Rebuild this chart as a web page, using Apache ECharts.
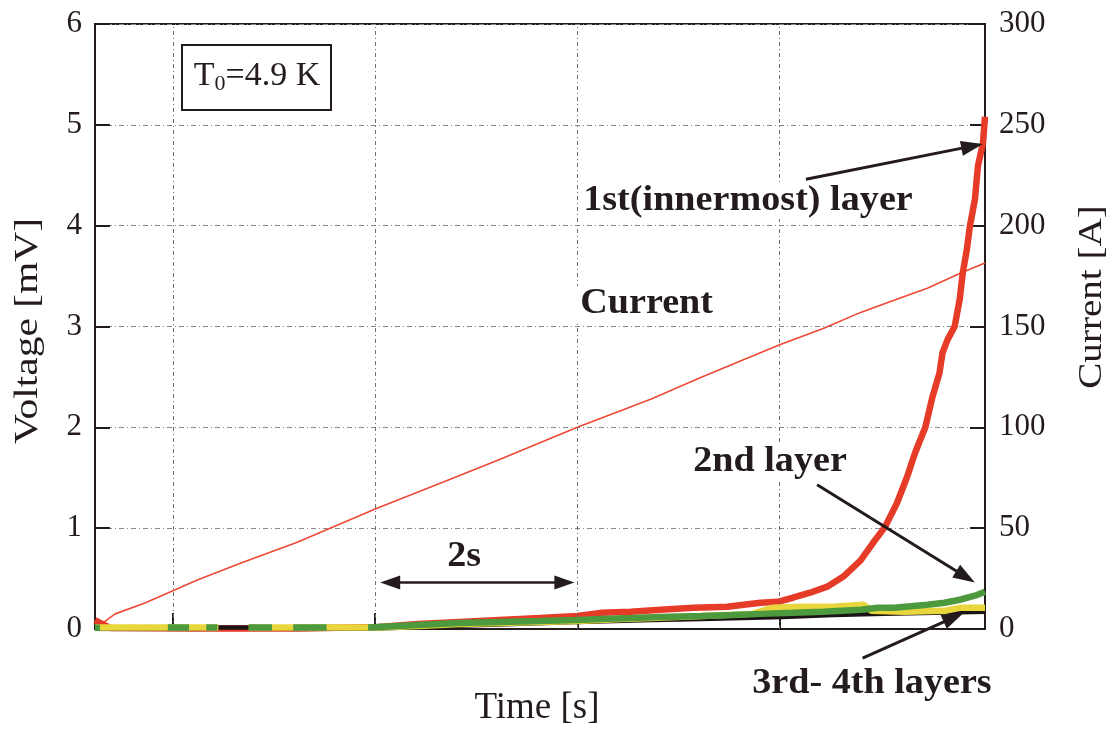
<!DOCTYPE html>
<html>
<head>
<meta charset="utf-8">
<script src="https://cdn.jsdelivr.net/npm/echarts@6/dist/echarts.min.js"></script>
<style>
  html, body { margin: 0; padding: 0; background: #fff; }
  #chart { width: 1120px; height: 734px; }
</style>
</head>
<body>
<div id="chart"></div>
<script>
// Quench test: layer voltages (left axis, mV) and transport current (right axis, A)

// Transport current ramp
const currentT = [0, 0.05, 0.2, 0.5, 0.77, 1.0, 1.43, 2.0, 2.77, 3.5, 4.0, 4.77, 5.5, 6.0, 6.77, 7.2, 7.57, 7.9, 8.23, 8.56, 8.8];
const currentA = [3, 2, 7.5, 13, 19, 24, 32.5, 43, 59.5, 74, 84, 100, 114, 125, 141, 149, 157, 163, 169, 176.5, 181.5];

// 1st (innermost) layer voltage
const layer1T = [0, 0.05, 0.15, 1.0, 2.0, 2.8, 3.2, 3.6, 4.0, 4.4, 4.77, 5.0, 5.3, 5.59, 5.92, 6.25, 6.58, 6.75, 6.9, 7.07, 7.24, 7.4, 7.57, 7.69, 7.81, 7.93, 8.03, 8.11, 8.21, 8.28, 8.35, 8.38, 8.43, 8.5, 8.55, 8.58, 8.62, 8.65, 8.7, 8.73, 8.78, 8.8];
const layer1V = [0.09, 0.06, 0.01, 0.005, 0.005, 0.02, 0.05, 0.07, 0.09, 0.11, 0.13, 0.16, 0.17, 0.19, 0.21, 0.22, 0.26, 0.27, 0.31, 0.36, 0.42, 0.52, 0.68, 0.85, 1.01, 1.25, 1.51, 1.75, 2.0, 2.3, 2.54, 2.74, 2.87, 3.0, 3.27, 3.53, 3.76, 3.99, 4.26, 4.59, 4.82, 5.08];

// 2nd layer voltage (gaps where another trace lies on top)
const layer2T = [0, 0.05, 0.06, 0.72, 0.93, 0.94, 1.1, 1.21, 1.22, 1.52, 1.75, 1.76, 1.96, 2.29, 2.3, 2.7, 2.8, 3.2, 3.6, 4.0, 4.4, 4.77, 5.0, 5.3, 5.59, 6.0, 6.3, 6.58, 6.9, 7.2, 7.57, 7.74, 7.9, 8.23, 8.4, 8.55, 8.7, 8.8];
const layer2V = [0.012, 0.012, null, 0.014, 0.014, null, 0.014, 0.014, null, 0.014, 0.014, null, 0.014, 0.014, null, 0.014, 0.02, 0.04, 0.06, 0.07, 0.08, 0.09, 0.1, 0.11, 0.12, 0.13, 0.14, 0.15, 0.16, 0.17, 0.19, 0.21, 0.21, 0.24, 0.26, 0.29, 0.33, 0.37];

// 3rd layer voltage
const layer3T = [0, 1.22, 1.23, 1.52, 2.8, 3.2, 3.6, 4.0, 4.77, 5.2, 5.5, 6.0, 6.5, 6.7, 7.0, 7.3, 7.6, 7.68, 8.0, 8.4, 8.55, 8.8];
const layer3V = [0.014, 0.014, null, 0.014, 0.015, 0.03, 0.05, 0.06, 0.08, 0.1, 0.11, 0.13, 0.15, 0.21, 0.22, 0.22, 0.24, 0.18, 0.17, 0.18, 0.21, 0.21];

// 4th layer voltage
const layer4T = [0, 1.0, 1.23, 1.5, 2.0, 2.8, 3.5, 4.77, 5.5, 6.0, 6.8, 7.3, 7.8, 8.3, 8.8];
const layer4V = [0.0, 0.0, 0.014, 0.014, 0.0, 0.005, 0.03, 0.07, 0.09, 0.1, 0.12, 0.14, 0.15, 0.16, 0.17];

// Axis ticks
const voltTicks = [0, 1, 2, 3, 4, 5, 6];
const currTicks = [0, 50, 100, 150, 200, 250, 300];
const timeGrid = [0.77, 2.77, 4.77, 6.77];

// Annotation arrows in data coordinates (time s, voltage mV)
const arrowLayer1 = [[7.03, 4.46], [8.78, 4.81]];
const arrowLayer2 = [[7.14, 1.43], [8.70, 0.46]];
const arrowLayer34 = [[7.59, -0.29], [8.59, 0.16]];
const arrowSpan = [[2.82, 0.46], [4.74, 0.46]];

const pairs = (ts, vs) => ts.map((t, i) => [t, vs[i]]);

const INK = '#241c1c';
const SERIF = '"Liberation Serif", "DejaVu Serif", serif';

const chart = echarts.init(document.getElementById('chart'), null, { renderer: 'canvas' });

const gridDash = { color: '#8a8a8a', width: 1, type: [5, 3, 1, 3] };

chart.setOption({
  animation: false,
  backgroundColor: '#ffffff',
  grid: { left: 95, right: 135, top: 24, bottom: 105, show: true, borderColor: INK, borderWidth: 2, backgroundColor: 'transparent' },
  xAxis: {
    type: 'value', min: 0, max: 8.8,
    axisLine: { show: true, lineStyle: { color: INK, width: 2 } },
    axisTick: { show: true, inside: true, length: 16, customValues: timeGrid, lineStyle: { color: INK, width: 2 } },
    axisLabel: { show: false },
    splitLine: { show: false }
  },
  yAxis: [
    {
      type: 'value', min: 0, max: 6, interval: 1, position: 'left',
      axisLine: { show: true, lineStyle: { color: INK, width: 2 } },
      axisTick: { show: true, inside: true, length: 15, lineStyle: { color: INK, width: 2 } },
      axisLabel: { fontFamily: SERIF, fontSize: 31, color: INK, margin: 13,
        formatter: v => voltTicks.includes(v) ? String(v) : '' },
      splitLine: { show: true, lineStyle: gridDash }
    },
    {
      type: 'value', min: 0, max: 300, interval: 50, position: 'right',
      axisLine: { show: true, lineStyle: { color: INK, width: 2 } },
      axisTick: { show: true, inside: true, length: 15, lineStyle: { color: INK, width: 2 } },
      axisLabel: { fontFamily: SERIF, fontSize: 31, color: INK, margin: 14,
        formatter: v => currTicks.includes(v) ? String(v) : '' },
      splitLine: { show: false }
    }
  ],
  series: [
    {
      name: 'Current', type: 'line', yAxisIndex: 1, data: pairs(currentT, currentA),
      showSymbol: false, lineStyle: { color: '#ec4a35', width: 1.6 }, z: 3,
      markLine: {
        silent: true, symbol: 'none', label: { show: false },
        lineStyle: { color: '#6e6e6e', width: 1, type: [4, 3, 1, 3] },
        data: timeGrid.map(t => ({ xAxis: t }))
      }
    },
    {
      name: '1st layer', type: 'line', data: pairs(layer1T, layer1V),
      showSymbol: false, lineStyle: { color: '#e63b27', width: 6.5 }, z: 4
    },
    {
      name: '4th layer', type: 'line', data: pairs(layer4T, layer4V),
      showSymbol: false, lineStyle: { color: '#1c1414', width: 4.5 }, z: 5
    },
    {
      name: '3rd layer', type: 'line', data: pairs(layer3T, layer3V),
      showSymbol: false, lineStyle: { color: '#e9d63c', width: 6.5 }, z: 6
    },
    {
      name: '2nd layer', type: 'line', data: pairs(layer2T, layer2V),
      showSymbol: false, connectNulls: false, lineStyle: { color: '#4d9a3e', width: 6.5 }, z: 7
    }
  ]
});

// Arrow annotations built from data coordinates
function arrowShapes(seg, opts) {
  const a = chart.convertToPixel({ xAxisIndex: 0, yAxisIndex: 0 }, seg[0]);
  const b = chart.convertToPixel({ xAxisIndex: 0, yAxisIndex: 0 }, seg[1]);
  const out = [];
  const head = (tip, tail) => {
    const dx = tip[0] - tail[0], dy = tip[1] - tail[1];
    const len = Math.hypot(dx, dy), ux = dx / len, uy = dy / len;
    const L = opts.headLen, W = opts.headWidth / 2;
    const bx = tip[0] - ux * L, by = tip[1] - uy * L;
    out.push({ type: 'polygon', z: 100, silent: true,
      shape: { points: [tip, [bx - uy * W, by + ux * W], [bx + uy * W, by - ux * W]] },
      style: { fill: INK } });
    return [bx + ux * 2, by + uy * 2];
  };
  const end = head(b, a);
  let start = a;
  if (opts.both) start = head(a, b);
  out.unshift({ type: 'line', z: 99, silent: true,
    shape: { x1: start[0], y1: start[1], x2: end[0], y2: end[1] },
    style: { stroke: INK, lineWidth: opts.width } });
  return out;
}

const boldText = (x, y, text) => ({
  type: 'text', x, y, z: 98, silent: true, scaleX: 1.06,
  style: { text, fontFamily: SERIF, fontSize: 36, fontWeight: 'bold', fill: INK,
    align: 'left', verticalAlign: 'middle',
    backgroundColor: '#fff', padding: [0, 3] }
});

const axisTitle = (x, y, text, size, stretch, vertical) => ({
  type: 'text', x, y, z: 98, silent: true, scaleX: stretch,
  rotation: vertical ? Math.PI / 2 : 0,
  style: { text, fontFamily: SERIF, fontSize: size, fill: INK, align: 'center', verticalAlign: 'middle' }
});

const graphics = [];
graphics.push(
  axisTitle(28, 331, 'Voltage [mV]', 34, 1.22, true),
  axisTitle(1092, 297, 'Current [A]', 34, 1.15, true),
  axisTitle(537, 708, 'Time [s]', 37, 1.0, false),
  { type: 'rect', z: 98, silent: true, shape: { x: 182, y: 45, width: 149, height: 65 },
    style: { fill: '#fff', stroke: INK, lineWidth: 2 } },
  { type: 'text', x: 257, y: 76, z: 99, silent: true,
    style: { text: 'T{s|0}=4.9 K', fontFamily: SERIF, fontSize: 34, fill: INK,
      align: 'center', verticalAlign: 'middle',
      rich: { s: { fontFamily: SERIF, fontSize: 22, fill: INK, padding: [16, 0, 0, 0] } } } },
  boldText(580, 201, '1st(innermost) layer'),
  boldText(577, 304, 'Current'),
  boldText(690, 462, '2nd layer'),
  boldText(444, 557, '2s'),
  boldText(749, 684, '3rd- 4th layers')
);
graphics.push(...arrowShapes(arrowLayer1, { width: 3, headLen: 22, headWidth: 15 }));
graphics.push(...arrowShapes(arrowLayer2, { width: 3, headLen: 22, headWidth: 15 }));
graphics.push(...arrowShapes(arrowLayer34, { width: 3, headLen: 22, headWidth: 15 }));
graphics.push(...arrowShapes(arrowSpan, { width: 2.5, headLen: 20, headWidth: 14, both: true }));

chart.setOption({ graphic: { elements: graphics } });
</script>
</body>
</html>
